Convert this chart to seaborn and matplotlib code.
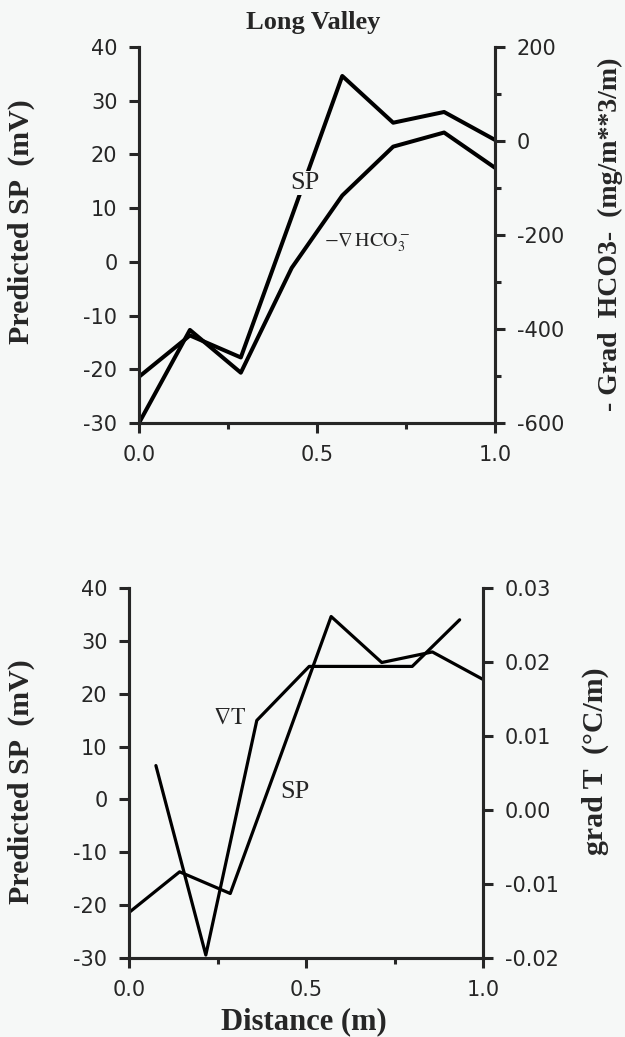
import numpy as np
import pandas as pd
import matplotlib
matplotlib.use("Agg")
import matplotlib.pyplot as plt
import seaborn as sns
from matplotlib.ticker import MultipleLocator, FormatStrFormatter

# station positions (normalised distance) and values
distance = [0.0, 0.143, 0.286, 0.429, 0.571, 0.714, 0.857, 1.0]
sp_mv = [-21.4, -13.7, -17.8, 8.4, 34.6, 25.9, 27.9, 22.7]
neg_grad_hco3 = [-600, -402, -493, -270, -116, -12, 18, -57]

# grad T is given between stations
distance_mid = [0.076, 0.217, 0.361, 0.509, 0.655, 0.800, 0.934]
grad_t = [0.0060, -0.0196, 0.0121, 0.0194, 0.0194, 0.0194, 0.0257]

BG = "#f6f8f7"
SERIF = "Liberation Serif"

sns.set_style("ticks")
plt.rcParams["font.family"] = ["DejaVu Sans"]
plt.rcParams["axes.unicode_minus"] = False
plt.rcParams["mathtext.fontset"] = "stix"

df_sp = pd.DataFrame({"distance": distance, "sp": sp_mv, "hco3": neg_grad_hco3})
df_t = pd.DataFrame({"distance": distance_mid, "grad_t": grad_t})


def style_panel(ax, axr, lw):
    ax.set_facecolor(BG)
    for a in (ax, axr):
        a.spines["top"].set_visible(False)
        for s in ("left", "right", "bottom"):
            a.spines[s].set_linewidth(lw)
    ax.set_xlim(0, 1)
    ax.set_ylim(-30, 40)
    ax.xaxis.set_major_locator(MultipleLocator(0.5))
    ax.xaxis.set_minor_locator(MultipleLocator(0.25))
    ax.xaxis.set_major_formatter(FormatStrFormatter("%.1f"))
    ax.yaxis.set_major_locator(MultipleLocator(10))
    for a in (ax, axr):
        a.tick_params(which="major", direction="out", length=7.5, width=lw,
                      labelsize=15, pad=8)
        a.tick_params(which="minor", direction="out", length=4.5, width=lw)
    ax.tick_params(axis="y", which="minor", left=False)


fig = plt.figure(figsize=(6.25, 10.37), dpi=100, facecolor=BG)

# top panel: SP vs -grad HCO3
ax1 = fig.add_axes([0.2224, 0.5921, 0.5696, 0.3626])
ax1r = ax1.twinx()
sns.lineplot(data=df_sp, x="distance", y="sp", ax=ax1, color="black", lw=2.9,
             estimator=None, sort=False)
sns.lineplot(data=df_sp, x="distance", y="hco3", ax=ax1r, color="black", lw=2.9,
             estimator=None, sort=False)
style_panel(ax1, ax1r, 2.2)
ax1r.set_ylim(-600, 200)
ax1r.yaxis.set_major_locator(MultipleLocator(200))
ax1r.yaxis.set_minor_locator(MultipleLocator(100))
ax1.set_xlabel("")
ax1.set_ylabel("Predicted SP  (mV)", family=SERIF, fontweight="bold", fontsize=21.5)
ax1.yaxis.set_label_coords(-0.292, 0.535)
ax1r.set_ylabel("- Grad  HCO3-  (mg/m**3/m)", family=SERIF, fontweight="bold",
                fontsize=20)
ax1r.yaxis.set_label_coords(1.288, 0.503)
ax1.text(0.49, 1.066, "Long Valley", transform=ax1.transAxes, ha="center",
         va="center", family=SERIF, fontweight="bold", fontsize=19)
ax1.text(0.466, 14.7, "SP", family=SERIF, fontsize=19, ha="center", va="center",
         bbox=dict(fc=BG, ec="none", pad=1), zorder=5)
ax1.text(0.64, 3.5, r"$-\nabla\,\mathrm{HCO}_3^-$", fontsize=14.5, ha="center",
         va="center", zorder=5)

# bottom panel: SP vs grad T
ax2 = fig.add_axes([0.2064, 0.0762, 0.5664, 0.3568])
ax2r = ax2.twinx()
sns.lineplot(data=df_sp, x="distance", y="sp", ax=ax2, color="black", lw=2.3,
             estimator=None, sort=False)
sns.lineplot(data=df_t, x="distance", y="grad_t", ax=ax2r, color="black", lw=2.3,
             estimator=None, sort=False)
style_panel(ax2, ax2r, 2.2)
ax2r.set_ylim(-0.02, 0.03)
ax2r.yaxis.set_major_locator(MultipleLocator(0.01))
ax2r.yaxis.set_major_formatter(FormatStrFormatter("%.2f"))
ax2.set_xlabel("Distance (m)", family=SERIF, fontweight="bold", fontsize=22)
ax2.xaxis.set_label_coords(0.494, -0.132)
ax2.set_ylabel("Predicted SP  (mV)", family=SERIF, fontweight="bold", fontsize=21.5)
ax2.yaxis.set_label_coords(-0.266, 0.476)
ax2r.set_ylabel("grad T  (°C/m)", family=SERIF, fontweight="bold", fontsize=21.5)
ax2r.yaxis.set_label_coords(1.278, 0.531)
ax2.text(0.285, 15.6, r"$\nabla\mathrm{T}$", fontsize=17, ha="center",
         va="center", zorder=5)
ax2.text(0.469, 1.4, "SP", family=SERIF, fontsize=19, ha="center", va="center",
         bbox=dict(fc=BG, ec="none", pad=1), zorder=5)

fig.savefig("out.png", dpi=100, facecolor=BG)
plt.close(fig)
